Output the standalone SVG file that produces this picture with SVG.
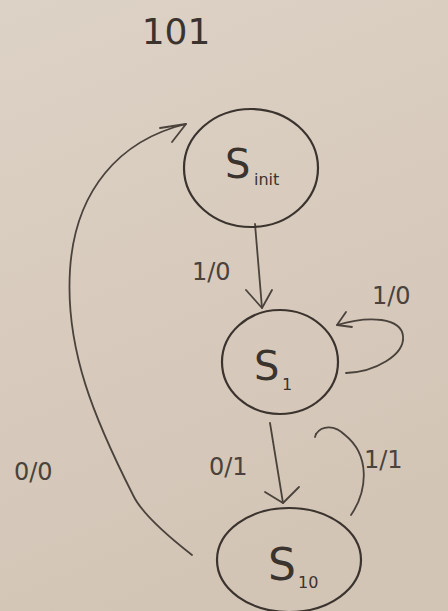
<svg xmlns="http://www.w3.org/2000/svg" width="448" height="611" viewBox="0 0 448 611">
<defs>
<style>
.st{fill:none;stroke:#3b332d;stroke-width:2.2;stroke-linecap:round;stroke-linejoin:round}
.ln{fill:none;stroke:#4a423b;stroke-width:1.8;stroke-linecap:round;stroke-linejoin:round}
.t{font-family:"DejaVu Sans","Liberation Sans",sans-serif;fill:#3b332d}
.lb{font-family:"DejaVu Sans","Liberation Sans",sans-serif;fill:#4a423b;font-size:24px}
</style>
<linearGradient id="bg" x1="0" y1="0" x2="0.3" y2="1">
<stop offset="0" stop-color="#ddd2c6"/>
<stop offset="1" stop-color="#d3c5b6"/>
</linearGradient>
</defs>
<rect width="448" height="611" fill="url(#bg)"/>
<text class="t" x="176" y="44" font-size="36" text-anchor="middle">101</text>
<g id="connectors">
<g id="e-init-s1">
<path class="ln" d="M255 224 L262 308"/>
<path class="ln" d="M246 290 L262 308 L272 290"/>
<text class="lb" x="192" y="280">1/0</text>
</g>
<g id="e-s1-self">
<path class="ln" d="M346 373 C375 372 405 355 403 336 C401 318 370 315 337 325"/>
<path class="ln" d="M346 312 L337 325 L352 327"/>
<text class="lb" x="372" y="304">1/0</text>
</g>
<g id="e-s1-s10">
<path class="ln" d="M270 423 L283 503"/>
<path class="ln" d="M265 492 L283 503 L299 487"/>
<text class="lb" x="209" y="475">0/1</text>
</g>
<g id="e-s10-s1">
<path class="ln" d="M351 515 C368 490 370 455 345 435 C335 425 322 425 316 434"/>
<path class="ln" d="M316 434 L315 437"/>
<text class="lb" x="364" y="468">1/1</text>
</g>
<g id="e-s10-init">
<path class="ln" d="M192 555 C160 530 140 510 133 495 C95 420 65 350 70 270 C75 190 120 140 186 124"/>
<path class="ln" d="M160 128 L186 124 L172 142"/>
<text class="lb" x="14" y="480">0/0</text>
</g>
</g>
<g id="s-init">
<ellipse class="st" cx="251" cy="168" rx="67" ry="59"/>
<text class="t" x="225" y="178" font-size="40">S</text>
<text class="t" x="254" y="185" font-size="16">init</text>
</g>
<g id="s1">
<ellipse class="st" cx="280" cy="362" rx="58" ry="52"/>
<text class="t" x="254" y="380" font-size="40">S</text>
<text class="t" x="282" y="390" font-size="16">1</text>
</g>
<g id="s10">
<ellipse class="st" cx="289" cy="560" rx="72" ry="52"/>
<text class="t" x="268" y="580" font-size="44">S</text>
<text class="t" x="298" y="588" font-size="16">10</text>
</g>
</svg>
